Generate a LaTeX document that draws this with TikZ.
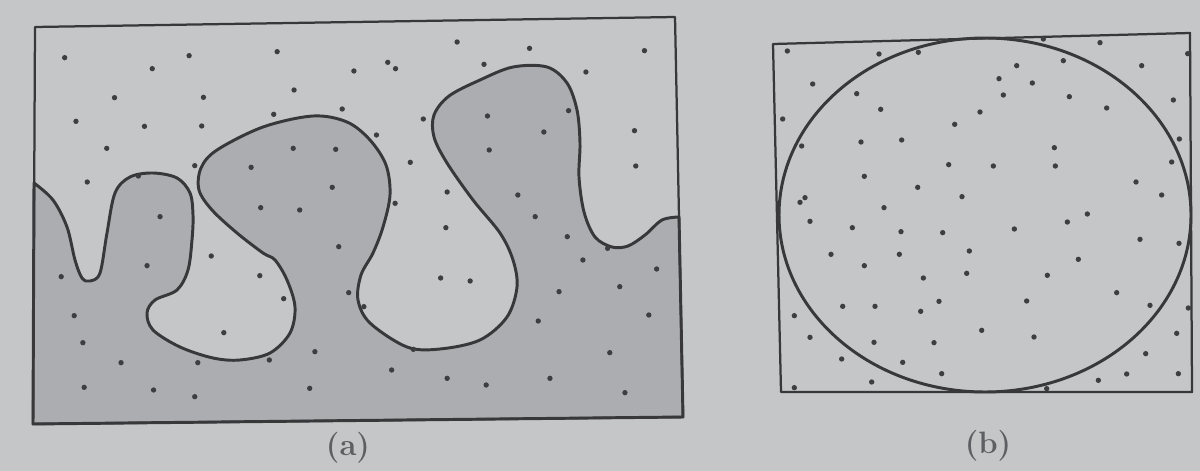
\documentclass[tikz,border=0pt]{standalone}
\usepackage{xcolor}
\definecolor{paper}{HTML}{C4C6C8}
\definecolor{shadegray}{HTML}{ABADB0}
\definecolor{ink}{HTML}{38383B}
\definecolor{dotc}{HTML}{3E3E41}
\definecolor{labelc}{HTML}{5E5F62}
\begin{document}
\begin{tikzpicture}[x=0.025cm,y=-0.025cm,
  frame/.style={draw=ink,line width=1.6pt,line join=round},
  boundary/.style={draw=ink,line width=2.1pt,line cap=round,line join=round},
  dotmark/.style={fill=dotc},
  caption/.style={font=\fontsize{22}{26}\selectfont\bfseries,text=labelc}]
\fill[paper] (0,0) rectangle (1200,471);
\useasboundingbox (0,0) rectangle (1200,471);
% panel (a) corners
\coordinate (aTL) at (35,27);
\coordinate (aTR) at (675,17);
\coordinate (aBR) at (683,417);
\coordinate (aBL) at (33,424);
% panel (b) corners
\coordinate (bTL) at (773,44);
\coordinate (bTR) at (1190,33);
\coordinate (bBR) at (1192,392);
\coordinate (bBL) at (781,392);
\coordinate (bC) at (985,215);
% shaded phase with its boundary
\path[fill=shadegray,boundary] plot[smooth,tension=0.55] coordinates {
 (34,183) (53,200) (67,227) (75,260) (82,278) (90,281) (100,273) (107,233)
 (115,193) (130,177) (153,173) (177,178) (190,193) (193,215) (192,240) (188,270)
 (177,290) (155,300) (147,313) (153,330) (180,347) (213,358) (240,360) (270,353)
 (290,333) (295,307) (287,280) (275,260) (263,253) (237,233) (212,210) (199,190)
 (201,168) (217,150) (263,127) (313,116) (347,122) (370,140) (386,165) (390,195)
 (383,227) (373,253) (361,275) (358,300) (370,323) (407,347) (440,349) (480,340)
 (507,317) (517,287) (513,260) (500,233) (473,200) (447,163) (434,137) (434,115)
 (449,96) (480,80) (513,67) (547,67) (567,83) (577,110) (580,143) (579,177)
 (584,212) (595,237) (612,247) (628,246) (645,235) (662,220) (679,217)}
 -- (aBR) -- (aBL) -- cycle;
\draw[frame] (aTL) -- (aTR) -- (aBR) -- (aBL) -- cycle;
% dots of panel (a)
\foreach \u/\v in {103/143,390/137,593/125,1008/96,1175/115,1440/122,305/176,848/157,
 866/176,770/183,1070/163,1305/186,218/263,423/262,632/240,743/297,129/334,287/349,
 419/348,585/313,930/327,200/415,822/375,1417/362,900/457,1420/468,155/516,403/467,
 985/546,865/580,982/653,441/738,553/797,608/866,970/804,1038/813,470/968,
 630/415,728/418,533/472,720/532,555/593,645/600,735/710,
 1078/318,1208/366,1265/302,1082/420,1148/555,1188/620,1262/680,
 273/498,323/620,293/767,95/800,
 125/917,145/998,233/1058,410/1058,575/1050,680/1025,148/1132,308/1140,403/1160,
 668/1135,857/1080,985/1105,1075/1125,1222/1105,1360/1028,1395/1148,1450/915,
 1195/933,1243/845,1383/830,1468/777,1298/750,1355/715,758/848,793/890,907/1018}
 \fill[dotmark] ({\u/2.306+20},{\v/3+10}) circle[radius=1.9pt];
% panel (b)
\draw[boundary] (bC) ellipse [x radius=206, y radius=177];
\draw[frame] (bTL) -- (bTR) -- (bBR) -- (bBL) -- cycle;
\foreach \u/\v in {82/93,357/102,475/97,850/57,1020/68,1283/101,158/192,290/221,
 770/137,910/122,1145/137,717/176,817/189,730/225,928/230,1240/240,362/268,660/276,
 1040/264,68/297,584/313,125/378,303/366,425/360,883/383,1258/357,566/434,700/438,
 886/438,1235/426,313/469,473/502,606/530,1128/486,1205/525,135/533,120/547,
 372/563,982/582,150/604,277/623,423/635,548/638,763/627,922/606,1140/658,
 1257/670,213/703,418/703,628/693,955/718,313/737,490/774,620/760,862/766,
 1070/818,1170/856,1285/864,103/887,248/859,345/859,537/844,482/874,800/843,
 150/952,342/967,522/968,665/931,822/951,1250/940,245/1017,428/1027,1157/1001,
 545/1061,335/1086,1015/1081,1100/1062,1255/1061,103/1103,860/1106}
 \fill[dotmark] ({\u/3+760},{\v/3+20}) circle[radius=1.9pt];
% captions
\node[caption] (labA) at (348,448) {(a)};
\node[caption] (labB) at (988,446) {(b)};
\end{tikzpicture}
\end{document}
